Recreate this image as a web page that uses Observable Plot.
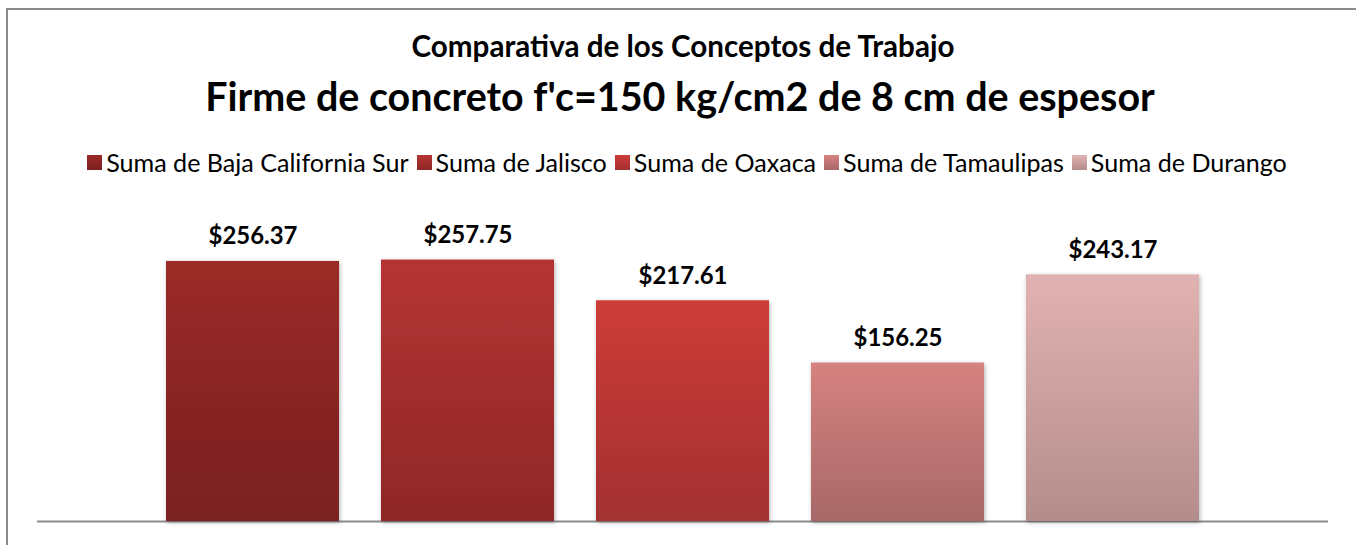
<!DOCTYPE html>
<html>
<head>
<meta charset="utf-8">
<script src="https://cdn.jsdelivr.net/npm/d3@7"></script>
<script src="https://cdn.jsdelivr.net/npm/@observablehq/plot@0.6"></script>
<style>
  html, body { margin: 0; padding: 0; background: #fff; }
  body { width: 1356px; height: 545px; overflow: hidden; position: relative; font-family: Lato, "Open Sans", sans-serif; }
  #frame { position: absolute; left: 6px; top: 8px; width: 1420px; height: 620px; border: 2px solid #8a8a8a; box-sizing: border-box; }
  .t { position: absolute; left: 0; width: 1356px; text-align: center; line-height: 1; white-space: nowrap; color: #000; font-weight: bold; }
  #legend { position: absolute; left: 0; width: 1356px; display: flex; justify-content: center; align-items: center; line-height: 1; white-space: nowrap; }
  .item { display: flex; align-items: center; margin: 0 4px; }
  .sw { width: 15px; height: 15px; margin-right: 4px; }
  #chart { position: absolute; left: 0; top: 190px; }
</style>
</head>
<body>
<div id="frame"></div>
<div class="t" id="t1"></div>
<div class="t" id="t2"></div>
<div id="legend"></div>
<div id="chart"></div>
<script>
// ---- data ----
const title1 = "Comparativa de los Conceptos de Trabajo";
const title2 = "Firme de concreto f'c=150 kg/cm2 de 8 cm de espesor";
const categories = ["Suma de Baja California Sur", "Suma de Jalisco", "Suma de Oaxaca", "Suma de Tamaulipas", "Suma de Durango"];
const values = [256.37, 257.75, 217.61, 156.25, 243.17];
const topColors = ["#9b2a28", "#b63433", "#cd3c38", "#d68280", "#e2b2b2"];
const bottomColors = ["#7a2020", "#8e2727", "#a33030", "#a86868", "#b38d8c"];

const data = categories.map((name, i) => ({name, value: values[i]}));
const fmt = v => "$" + d3.format(",.2f")(v);

// ---- text fitting helper ----
const ctx = document.createElement("canvas").getContext("2d");
function fit(text, weight, family, targetWidth) {
  ctx.font = `${weight} 100px ${family}`;
  return 100 * targetWidth / ctx.measureText(text).width;
}
const FAM = "Lato";
const ASC = 0.887; // baseline offset for line-height:1

// titles
const f1 = fit(title1, "bold", FAM, 544);
const f2 = fit(title2, "bold", FAM, 950);
const t1 = document.getElementById("t1");
t1.textContent = title1; t1.style.fontSize = f1 + "px"; t1.style.top = (57 - ASC * f1) + "px"; t1.style.left = "5px";
const t2 = document.getElementById("t2");
t2.textContent = title2; t2.style.fontSize = f2 + "px"; t2.style.top = (111 - ASC * f2) + "px"; t2.style.left = "2px";

// legend
const legendText = categories.join("");
const fl = fit(legendText, "normal", FAM, 1201 - 5 * 19 - 4 * 8);
const legend = document.getElementById("legend");
legend.style.fontSize = fl + "px";
legend.style.top = (163 - fl / 2) + "px";
legend.style.height = fl + "px";
legend.style.left = "9px";
categories.forEach((c, i) => {
  const it = document.createElement("div"); it.className = "item";
  const sw = document.createElement("div"); sw.className = "sw";
  sw.style.background = `linear-gradient(${topColors[i]}, ${bottomColors[i]})`;
  const tx = document.createElement("span"); tx.textContent = c;
  it.appendChild(sw); it.appendChild(tx); legend.appendChild(it);
});

// label font
const fLab = fit("$256.37", "bold", FAM, 89);

const plot = Plot.plot({
  width: 1356,
  height: 355,
  marginTop: 26.7,
  marginBottom: 24,
  marginLeft: 37,
  marginRight: 28,
  style: {fontFamily: FAM, background: "transparent", overflow: "visible"},
  x: {domain: categories, paddingInner: 0.196, paddingOuter: 0.598, axis: null},
  y: {domain: [0, 300], axis: null},
  color: {domain: categories, range: categories.map((d, i) => `url(#grad${i})`)},
  marks: [
    Plot.ruleY([0], {stroke: "#8c8c8c", strokeWidth: 2}),
    Plot.barY(data, {x: "name", y: "value", fill: "name"}),
    Plot.text(data, {x: "name", y: "value", text: d => fmt(d.value), dy: -17 - 0.32 * fLab,
      fontWeight: "bold", fontSize: fLab, fill: "#000"})
  ]
});

// gradients + shadow
const NS = "http://www.w3.org/2000/svg";
const defs = document.createElementNS(NS, "defs");
categories.forEach((c, i) => {
  const g = document.createElementNS(NS, "linearGradient");
  g.setAttribute("id", "grad" + i);
  g.setAttribute("x1", "0"); g.setAttribute("y1", "0"); g.setAttribute("x2", "0"); g.setAttribute("y2", "1");
  [[0, topColors[i]], [1, bottomColors[i]]].forEach(([o, col]) => {
    const s = document.createElementNS(NS, "stop");
    s.setAttribute("offset", o); s.setAttribute("stop-color", col);
    g.appendChild(s);
  });
  defs.appendChild(g);
});
const flt = document.createElementNS(NS, "filter");
flt.setAttribute("id", "shadow");
flt.setAttribute("x", "-10%"); flt.setAttribute("y", "-10%"); flt.setAttribute("width", "120%"); flt.setAttribute("height", "120%");
flt.innerHTML = '<feDropShadow dx="1" dy="1.5" stdDeviation="2" flood-color="#000" flood-opacity="0.3"/>';
defs.appendChild(flt);
plot.insertBefore(defs, plot.firstChild);
plot.querySelectorAll('g[aria-label="bar"] rect').forEach(r => r.setAttribute("filter", "url(#shadow)"));

document.getElementById("chart").appendChild(plot);
</script>
</body>
</html>
